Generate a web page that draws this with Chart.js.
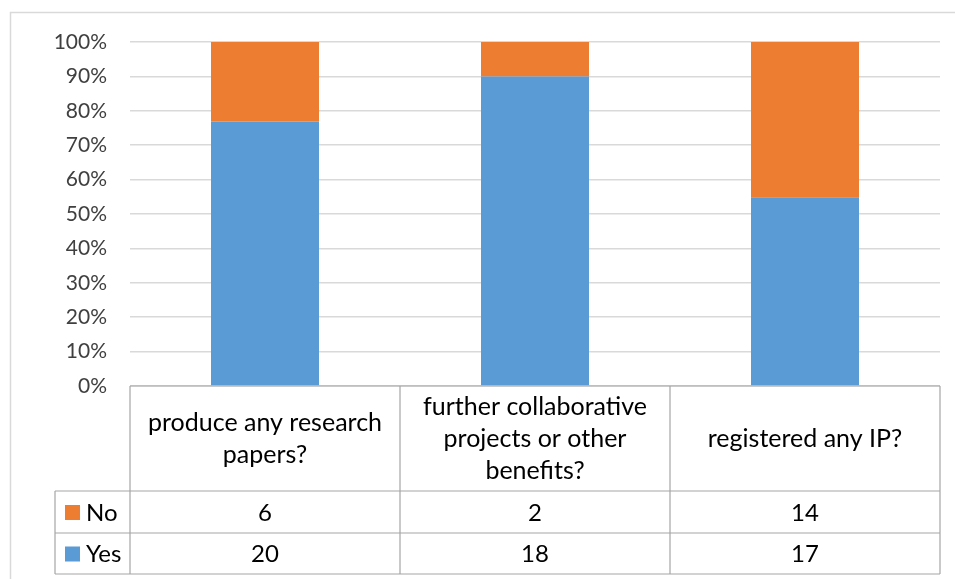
<!DOCTYPE html>
<html>
<head>
<meta charset="utf-8">
<script src="https://cdn.jsdelivr.net/npm/chart.js@4.4.1/dist/chart.umd.min.js"></script>
<style>
  html, body { margin: 0; padding: 0; background: #fff; overflow: hidden; }
  #wrap { width: 955px; height: 579px; }
</style>
</head>
<body>
<div id="wrap"><canvas id="surveyChart" width="955" height="579"></canvas></div>
<script>
// categories (wrapped the way they appear in the table header)
const categories = [
    ['produce any research', 'papers?'],
    ['further collaborative', 'projects or other', 'benefits?'],
    ['registered any IP?']
];
const seriesNames = ['No', 'Yes'];
const noCounts = [6, 2, 14];
const yesCounts = [20, 18, 17];
const yTickStep = 10; // 0% .. 100%

const blue = '#5B9BD5';
const orange = '#ED7D31';
const fontFamily = 'Lato, "Open Sans", sans-serif';

// 100% stacked -> share of each answer per question
const totals = yesCounts.map((v, i) => v + noCounts[i]);
const yesPct = yesCounts.map((v, i) => v / totals[i] * 100);
const noPct = noCounts.map((v, i) => v / totals[i] * 100);

const framePlugin = {
    id: 'frame',
    beforeDraw(chart) {
        const ctx = chart.ctx;
        ctx.save();
        ctx.fillStyle = '#fff';
        ctx.fillRect(0, 0, chart.width, chart.height);
        ctx.strokeStyle = '#d9d9d9';
        ctx.lineWidth = 1.5;
        ctx.strokeRect(10.5, 12.5, 1200, 1200);
        ctx.restore();
    }
};

// data table under the plot, columns follow the x scale
const tablePlugin = {
    id: 'dataTable',
    afterDraw(chart) {
        const ctx = chart.ctx;
        const xs = chart.scales.x;
        const area = chart.chartArea;
        const half = (xs.getPixelForValue(1) - xs.getPixelForValue(0)) / 2;
        const top = area.bottom;
        const headBottom = top + 105;
        const rowH = [42, 41];
        const bottom = headBottom + rowH[0] + rowH[1];
        const legendLeft = 55;

        ctx.save();
        ctx.strokeStyle = '#a6a6a6';
        ctx.lineWidth = 1.2;
        ctx.beginPath();
        // horizontal lines
        ctx.moveTo(area.left, top); ctx.lineTo(area.right, top);
        let y = headBottom;
        [0, 1, 2].forEach(r => {
            ctx.moveTo(legendLeft, y); ctx.lineTo(area.right, y);
            if (r < 2) y += rowH[r];
        });
        // vertical lines
        categories.forEach((c, i) => {
            const x0 = xs.getPixelForValue(i) - half;
            ctx.moveTo(x0, top); ctx.lineTo(x0, bottom);
        });
        ctx.moveTo(area.right, top); ctx.lineTo(area.right, bottom);
        ctx.moveTo(legendLeft, headBottom); ctx.lineTo(legendLeft, bottom);
        ctx.stroke();

        ctx.fillStyle = '#000';
        ctx.textAlign = 'center';
        ctx.textBaseline = 'middle';
        ctx.font = '25px ' + fontFamily;
        const lineH = 32;
        const headMid = (top + headBottom) / 2;
        categories.forEach((lines, i) => {
            const cx = xs.getPixelForValue(i);
            const y0 = headMid - (lines.length - 1) * lineH / 2;
            lines.forEach((t, k) => ctx.fillText(t, cx, y0 + k * lineH));
        });

        const rows = [
            { name: seriesNames[0], color: orange, vals: noCounts },
            { name: seriesNames[1], color: blue, vals: yesCounts }
        ];
        ctx.font = '24px ' + fontFamily;
        let ry = headBottom;
        rows.forEach((row, r) => {
            const mid = ry + rowH[r] / 2;
            ctx.fillStyle = row.color;
            ctx.fillRect(65, mid - 7, 15, 15);
            ctx.fillStyle = '#000';
            ctx.textAlign = 'left';
            ctx.fillText(row.name, 86, mid + 1);
            ctx.textAlign = 'center';
            row.vals.forEach((v, i) => ctx.fillText(String(v), xs.getPixelForValue(i), mid + 1));
            ry += rowH[r];
        });
        ctx.restore();
    }
};

const ctx = document.getElementById('surveyChart').getContext('2d');
new Chart(ctx, {
    type: 'bar',
    data: {
        labels: categories.map(c => c.join(' ')),
        datasets: [
            { label: seriesNames[1], data: yesPct, backgroundColor: blue },
            { label: seriesNames[0], data: noPct, backgroundColor: orange }
        ]
    },
    options: {
        responsive: false,
        animation: false,
        layout: { padding: { top: 42, right: 15, bottom: 193, left: 0 } },
        categoryPercentage: 1,
        barPercentage: 0.4,
        plugins: { legend: { display: false }, tooltip: { enabled: false } },
        scales: {
            x: { stacked: true, display: false },
            y: {
                stacked: true,
                min: 0,
                max: 100,
                border: { display: false },
                grid: { color: '#d9d9d9', lineWidth: 1.5, drawTicks: false },
                afterFit(scale) { scale.width = 130; },
                ticks: {
                    stepSize: yTickStep,
                    padding: 23,
                    color: '#404040',
                    font: { family: fontFamily, size: 21 },
                    callback: v => v + '%'
                }
            }
        }
    },
    plugins: [framePlugin, tablePlugin]
});
</script>
</body>
</html>
